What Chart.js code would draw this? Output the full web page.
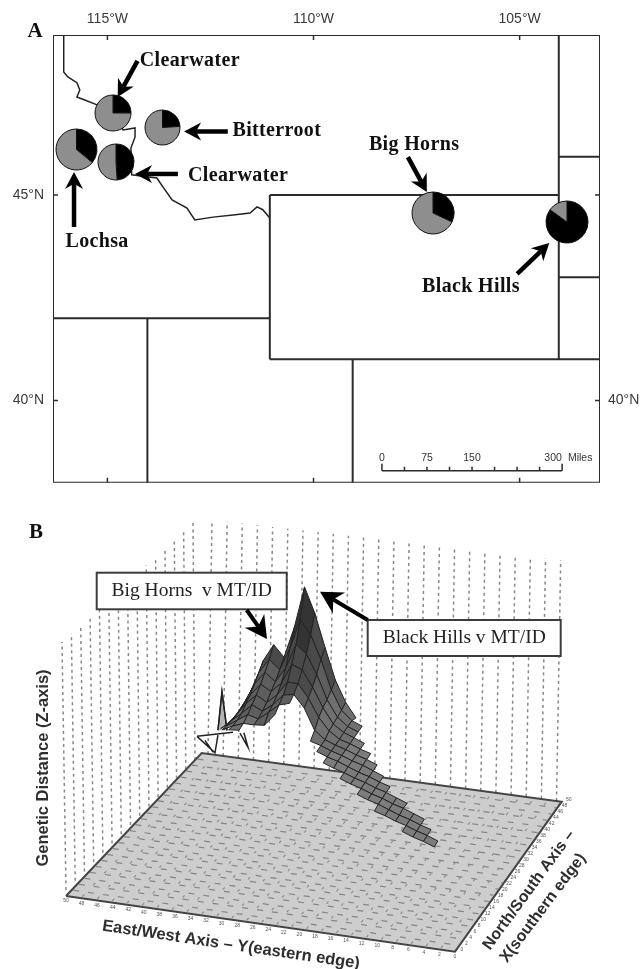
<!DOCTYPE html>
<html>
<head>
<meta charset="utf-8">
<title>Genetic distance map and surface</title>
<script src="https://cdn.jsdelivr.net/npm/chart.js@4/dist/chart.umd.min.js"></script>
<style>
  html, body { margin: 0; padding: 0; background: #fff; }
  #page { position: relative; width: 641px; height: 969px; overflow: hidden; }
  #page canvas { position: absolute; display: block; filter: blur(0.45px); }
</style>
</head>
<body>
<div id="page">
  <canvas id="mapChart" width="641" height="484" style="left:0;top:0"></canvas>
  <canvas id="surfaceChart" width="641" height="485" style="left:0;top:484px"></canvas>
</div>
<script>
// panel A: map axes
const lonTicks = [-115, -110, -105];
const latTicks = [45, 40];
const rightLatLabels = [40];

// state lines, degrees
const stateLinesLon = [
  [-116.32, -111.06], [-111.06, -111.06], [-111.06, -104.05], [-111.06, -103.05],
  [-104.05, -104.05], [-104.05, -103.05], [-104.05, -103.05], [-114.03, -114.03], [-109.05, -109.05]
];
const stateLinesLat = [
  [42, 42], [45, 41], [45, 45], [41, 41],
  [48.89, 41], [45.93, 45.93], [43, 43], [42, 38], [41, 38]
];
const idahoBorderLon = [-116.06, -116.06, -115.96, -115.74, -115.67, -115.74, -115.55, -115.25, -114.87, -114.62, -114.33, -114.33, -114.43, -114.41, -113.8, -113.65, -113.43, -113.07, -112.88, -112.44, -111.95, -111.54, -111.37, -111.23, -111.06];
const idahoBorderLat = [48.89, 47.99, 47.87, 47.73, 47.55, 47.38, 47.31, 47.19, 46.99, 46.58, 46.63, 46.41, 46.14, 45.49, 45.41, 45.19, 44.88, 44.68, 44.39, 44.46, 44.51, 44.56, 44.71, 44.64, 44.44];

// sampling sites and their share of the dark cluster
const siteLon = [-114.86, -113.66, -115.75, -114.79, -107.09, -103.84];
const siteLat = [46.99, 46.63, 46.11, 45.79, 44.55, 44.33];
const siteDarkShare = [25, 24, 36, 49, 32, 85];

const siteLabels = ["Clearwater", "Bitterroot", "Clearwater", "Lochsa", "Big Horns", "Black Hills"];
const siteLabelLon = [-113.0, -110.89, -111.83, -115.25, -107.56, -106.18];
const siteLabelLat = [48.26, 46.56, 45.46, 43.86, 46.22, 42.76];
const arrowFromLon = [-114.27, -112.08, -113.29, -115.81, -107.71, -105.06];
const arrowFromLat = [48.26, 46.54, 45.51, 44.22, 45.92, 43.08];
const arrowToLon = [-114.75, -113.14, -114.33, -115.81, -107.25, -104.28];
const arrowToLat = [47.38, 46.54, 45.51, 45.56, 45.07, 43.83];

// scale bar
const scaleBarMiles = [0, 37.5, 75, 112.5, 150, 187.5, 225, 262.5, 300];
const scaleBarLabels = ["0", "75", "150", "300"];
const scaleBarLabelMiles = [0, 75, 150, 285];

// panel B: height table, one row per north/south step, first value at surfaceStartI
const surfaceRowJ = [30, 29, 28, 27, 26, 25, 24, 23, 22, 21, 20, 19, 18];
const surfaceStartI = [3, 3, 3, 4, 4, 4, 5, 5, 6, 17, 19, 21, 24];
const surfaceZ = [
  [33, 51, 72, 101, 118, 107, 138, 180, 155, 122, 91, 70, 56],
  [35, 50, 69, 94, 108, 99, 122, 152, 138, 115, 86, 67, 58, 54],
  [37, 50, 67, 87, 100, 92, 107, 132, 124, 105, 81, 65, 57, 53],
  [51, 64, 81, 93, 87, 97, 117, 113, 97, 78, 63, 56, 52, 48],
  [52, 63, 77, 87, 81, 90, 104, 104, 91, 73, 61, 54, 51, 47, 44],
  [54, 63, 72, 82, 77, 85, 96, 98, 86, 65, 57, 53, 50, 46, 43, 39],
  [63, 70, 77, 74, 82, 91, 94, null, 59, 56, 52, 49, 45, 42, 38, 34],
  [64, 69, 73, 73, 74, 86, null, null, null, 55, 51, 48, 44, 40, 37, 33, 30],
  [70, 71, null, null, null, null, null, null, null, 50, 46, 43, 39, 36, 32, 29, 25, 21],
  [42, 38, 35, 31, 28, 24, 21, 17, 13],
  [34, 30, 27, 23, 19, 16, 12, 9],
  [25, 22, 18, 15, 11, 8, 4],
  [14, 10, 7, 3, 0]
];
// thin spike at the back corner, same i / j / z units
const spikeI = [-0.46, 3.04, null, 1.58, 1.97, 2.46, null, -0.46, 1.29, 1.58, null, 0.32, 1.1, null, 3.72, 4.5, 4.1];
const spikeZ = [16, 25, null, 25, 64, 26, null, 16, 2, 20, null, 13, 2.5, null, 25, 12, 26];

const eastWestTicks = ["50","48","46","44","42","40","38","36","34","32","30","28","26","24","22","20","18","16","14","12","10","8","6","4","2","0"];
const northSouthTicks = ["0","2","4","6","8","10","12","14","16","18","20","22","24","26","28","30","32","34","36","38","40","42","44","46","48","50"];

// drawing setup
const DARK = "#2b2b2b";
const SANS = '"Liberation Sans", Arial, sans-serif';
const SERIF = '"Liberation Serif", "Times New Roman", serif';
const PIE_RADIUS = [18, 17.5, 20.5, 18, 21, 21];
const MILES_TO_LON = 0.01457;
const BAR_LON = -108.34;
const BAR_LAT = 38.29;

function drawArrow(ctx, x1, y1, x2, y2, shaft, headLen, headWid) {
  const a = Math.atan2(y2 - y1, x2 - x1);
  ctx.save();
  ctx.translate(x2, y2);
  ctx.rotate(a);
  ctx.fillStyle = "#000";
  ctx.strokeStyle = "#000";
  ctx.lineWidth = shaft;
  ctx.beginPath();
  ctx.moveTo(-headLen * 0.7, 0);
  ctx.lineTo(-Math.hypot(x2 - x1, y2 - y1), 0);
  ctx.stroke();
  ctx.beginPath();
  ctx.moveTo(0, 0);
  ctx.lineTo(-headLen, headWid / 2);
  ctx.lineTo(-headLen * 0.7, 0);
  ctx.lineTo(-headLen, -headWid / 2);
  ctx.closePath();
  ctx.fill();
  ctx.restore();
}

function lineSet(xs, ys, color, width, dash) {
  return {
    data: xs.map((x, i) => ({ x, y: ys[i] })),
    showLine: true,
    pointRadius: 0,
    borderColor: color,
    borderWidth: width,
    borderDash: dash || [],
    borderCapStyle: "butt",
    spanGaps: false,
    tension: 0
  };
}

// ---- panel A ----
const LON_MIN = -116.32, LON_MAX = -103.05, LAT_MIN = 38, LAT_MAX = 48.89;
const mapSets = [];
stateLinesLon.forEach((xs, i) => mapSets.push(lineSet(xs, stateLinesLat[i], DARK, 2)));
mapSets.push(lineSet(idahoBorderLon, idahoBorderLat, "#222", 1.5));
mapSets.push(lineSet([LON_MIN, LON_MAX, LON_MAX, LON_MIN, LON_MIN], [LAT_MIN, LAT_MIN, LAT_MAX, LAT_MAX, LAT_MIN], DARK, 2));
lonTicks.forEach((lon) => {
  mapSets.push(lineSet([lon, lon], [LAT_MAX, LAT_MAX - 0.12], DARK, 1.5));
  mapSets.push(lineSet([lon, lon], [LAT_MIN, LAT_MIN + 0.12], DARK, 1.5));
});
latTicks.forEach((lat) => {
  mapSets.push(lineSet([LON_MIN, LON_MIN + 0.12], [lat, lat], DARK, 1.5));
  mapSets.push(lineSet([LON_MAX, LON_MAX - 0.12], [lat, lat], DARK, 1.5));
});
mapSets.push(lineSet(scaleBarMiles.map((m) => BAR_LON + m * MILES_TO_LON), scaleBarMiles.map(() => BAR_LAT), DARK, 1.5));
scaleBarMiles.forEach((m) => {
  const x = BAR_LON + m * MILES_TO_LON;
  const tall = m === 0 || m === 300 ? 0.17 : 0.1;
  mapSets.push(lineSet([x, x], [BAR_LAT, BAR_LAT + tall], DARK, 1.5));
});

const mapLabelsPlugin = {
  id: "mapLabels",
  afterDatasetsDraw(chart) {
    const { ctx, scales } = chart;
    const sx = scales.x, sy = scales.y;
    ctx.save();
    siteLabels.forEach((label, i) => {
      drawArrow(ctx,
        sx.getPixelForValue(arrowFromLon[i]), sy.getPixelForValue(arrowFromLat[i]),
        sx.getPixelForValue(arrowToLon[i]), sy.getPixelForValue(arrowToLat[i]),
        4.5, 17, 18);
    });
    ctx.fillStyle = "#111";
    ctx.textAlign = "center";
    ctx.textBaseline = "middle";
    ctx.font = 'bold 20px ' + SERIF;
    ctx.letterSpacing = "0.35px";
    siteLabels.forEach((label, i) => {
      ctx.fillText(label, sx.getPixelForValue(siteLabelLon[i]), sy.getPixelForValue(siteLabelLat[i]));
    });
    ctx.letterSpacing = "0px";
    ctx.font = 'bold 21px ' + SERIF;
    ctx.fillText("A", 35, 32);
    ctx.fillStyle = "#333";
    ctx.font = '10.5px ' + SANS;
    scaleBarLabels.forEach((label, i) => {
      ctx.fillText(label, sx.getPixelForValue(BAR_LON + scaleBarLabelMiles[i] * MILES_TO_LON), sy.getPixelForValue(BAR_LAT + 0.31));
    });
    ctx.fillText("Miles", sx.getPixelForValue(BAR_LON + 330 * MILES_TO_LON), sy.getPixelForValue(BAR_LAT + 0.31));
    ctx.restore();
  }
};

function latTickOptions(labels, pad) {
  return {
    color: "#3a3a3a",
    font: { family: SANS, size: 14 },
    padding: pad,
    callback: (v) => (labels.includes(v) ? v + "°N" : "")
  };
}

function fitNoPadding(s, key, size) {
  s[key] = size;
  s.paddingTop = 0;
  s.paddingBottom = 0;
}

const mapChart = new Chart(document.getElementById("mapChart"), {
  type: "scatter",
  data: { datasets: mapSets },
  options: {
    responsive: false,
    animation: false,
    layout: { padding: { bottom: 1.3 } },
    plugins: { legend: { display: false }, tooltip: { enabled: false } },
    scales: {
      x: {
        type: "linear", position: "top", min: LON_MIN, max: LON_MAX,
        grid: { display: false, drawTicks: false }, border: { display: false },
        afterBuildTicks: (s) => { s.ticks = lonTicks.map((value) => ({ value })); },
        afterFit: (s) => { s.height = 35; },
        ticks: {
          color: "#3a3a3a", font: { family: SANS, size: 14 }, padding: 7, maxRotation: 0, autoSkip: false,
          callback: (v) => Math.abs(v) + "°W"
        }
      },
      y: {
        type: "linear", position: "left", min: LAT_MIN, max: LAT_MAX,
        grid: { display: false, drawTicks: false }, border: { display: false },
        afterBuildTicks: (s) => { s.ticks = latTicks.map((value) => ({ value })); },
        afterFit: (s) => fitNoPadding(s, "width", 53),
        ticks: latTickOptions(latTicks, 9)
      },
      yRight: {
        type: "linear", position: "right", min: LAT_MIN, max: LAT_MAX,
        grid: { display: false, drawTicks: false }, border: { display: false },
        afterBuildTicks: (s) => { s.ticks = rightLatLabels.map((value) => ({ value })); },
        afterFit: (s) => fitNoPadding(s, "width", 41),
        ticks: latTickOptions(rightLatLabels, 8)
      }
    }
  },
  plugins: [mapLabelsPlugin]
});

// one real pie per site, placed with the map's scales
siteLon.forEach((lon, i) => {
  const r = PIE_RADIUS[i];
  const size = Math.ceil(r * 2 + 4);
  const canvas = document.createElement("canvas");
  canvas.width = size;
  canvas.height = size;
  canvas.style.left = (mapChart.scales.x.getPixelForValue(lon) - size / 2) + "px";
  canvas.style.top = (mapChart.scales.y.getPixelForValue(siteLat[i]) - size / 2) + "px";
  document.getElementById("page").appendChild(canvas);
  new Chart(canvas, {
    type: "pie",
    data: {
      labels: ["dark", "grey"],
      datasets: [{
        data: [siteDarkShare[i], 100 - siteDarkShare[i]],
        backgroundColor: ["#000", "#8e8e8e"],
        borderColor: "#111",
        borderWidth: 1
      }]
    },
    options: {
      responsive: false,
      animation: false,
      radius: r,
      plugins: { legend: { display: false }, tooltip: { enabled: false } }
    }
  });
});

// ---- panel B ----
const FLOOR_X = [66, 455, 561.7, 201.7];
const FLOOR_Y = [896, 951.7, 801.7, 753];
const GRID_I = 35, GRID_J = 30;

function floorPoint(u, v) {
  return {
    x: (1 - v) * ((1 - u) * FLOOR_X[0] + u * FLOOR_X[1]) + v * ((1 - u) * FLOOR_X[3] + u * FLOOR_X[2]),
    y: (1 - v) * ((1 - u) * FLOOR_Y[0] + u * FLOOR_Y[1]) + v * ((1 - u) * FLOOR_Y[3] + u * FLOOR_Y[2])
  };
}

function project(i, j, z) {
  const p = floorPoint(i / GRID_I, j / GRID_J);
  return { x: p.x, y: p.y - z };
}

function zAt(rowIndex, i) {
  if (rowIndex < 0 || rowIndex >= surfaceZ.length) return null;
  const v = surfaceZ[rowIndex][i - surfaceStartI[rowIndex]];
  return v === undefined ? null : v;
}

function heightColor(z) {
  if (z > 135) return "#333333";
  if (z > 100) return "#4a4a4a";
  if (z > 75) return "#5e5e5e";
  if (z > 50) return "#707070";
  return "#7c7c7c";
}

const surfaceSets = [];

// dotted walls
const BACK_WALL_COLS = 24, LEFT_WALL_COLS = 15;
for (let k = 0; k < BACK_WALL_COLS; k++) {
  const t = k / (BACK_WALL_COLS - 1);
  const bx = 208 + 348.5 * t;
  const by = 753.9 + 47 * t;
  surfaceSets.push(lineSet([bx, 212 + 348.7 * t], [by, 520 + 40 * t], "#888888", 1.5, [3, 3.5]));
}
for (let k = 0; k < LEFT_WALL_COLS; k++) {
  const t = k / (LEFT_WALL_COLS - 1);
  surfaceSets.push(lineSet([66 + 129 * t, 62 + 131 * t], [890 - 130 * t, 642 - 119 * t], "#888888", 1.5, [3, 3.5]));
}

// floor
const floorSet = lineSet([...FLOOR_X, FLOOR_X[0]], [...FLOOR_Y, FLOOR_Y[0]], "#444", 2);
floorSet.polygonFill = "#cdcdcd";
surfaceSets.push(floorSet);
for (let k = 1; k < 24; k++) {
  const a = floorPoint(0.004, k / 24), b = floorPoint(0.996, k / 24);
  surfaceSets.push(lineSet([a.x, b.x], [a.y, b.y], "#858585", 1.2, [6, 9]));
}
for (let k = 1; k < 26; k++) {
  const a = floorPoint(k / 26, 0.01), b = floorPoint(k / 26, 0.99);
  surfaceSets.push(lineSet([a.x, b.x], [a.y, b.y], "#8e8e8e", 1.2, [3, 13]));
}

// spike behind the mesh
const spikeFill = lineSet(
  [1.58, 1.97, 2.46].map((i) => project(i, 30, 0).x),
  [1.58, 1.97, 2.46].map((i, n) => project(i, 30, [25, 64, 26][n]).y),
  "#222", 1.2
);
spikeFill.polygonFill = "#b4b4b4";
surfaceSets.push(spikeFill);
surfaceSets.push(lineSet(
  spikeI.map((i) => (i === null ? null : project(i, 30, 0).x)),
  spikeI.map((i, n) => (i === null ? null : project(i, 30, spikeZ[n]).y)),
  "#222", 1.5
));

// mesh cells, back rows first
surfaceRowJ.forEach((j, row) => {
  if (row === surfaceRowJ.length - 1) return;
  for (let i = 0; i < GRID_I; i++) {
    const z = [zAt(row, i), zAt(row, i + 1), zAt(row + 1, i + 1), zAt(row + 1, i)];
    if (z.some((v) => v === null)) continue;
    const corners = [project(i, j, z[0]), project(i + 1, j, z[1]), project(i + 1, j - 1, z[2]), project(i, j - 1, z[3])];
    corners.push(corners[0]);
    const cell = lineSet(corners.map((p) => p.x), corners.map((p) => p.y), "#222222", 1);
    cell.polygonFill = heightColor((z[0] + z[1] + z[2] + z[3]) / 4);
    surfaceSets.push(cell);
  }
});

const polygonFillPlugin = {
  id: "polygonFill",
  beforeDatasetDraw(chart, args) {
    const ds = chart.data.datasets[args.index];
    if (!ds.polygonFill) return;
    const ctx = chart.ctx;
    ctx.save();
    ctx.beginPath();
    args.meta.data.forEach((p, n) => (n ? ctx.lineTo(p.x, p.y) : ctx.moveTo(p.x, p.y)));
    ctx.closePath();
    ctx.fillStyle = ds.polygonFill;
    ctx.fill();
    ctx.restore();
  }
};

const BOXES = [
  { text: "Big Horns  v MT/ID", x1: 96.7, y1: 572.7, x2: 286.7, y2: 609.3, ax: 246.7, ay: 610, bx: 267, by: 639 },
  { text: "Black Hills v MT/ID", x1: 367.7, y1: 620, x2: 560.7, y2: 656, ax: 367.7, ay: 620, bx: 320, by: 591.7 }
];

const surfaceLabelsPlugin = {
  id: "surfaceLabels",
  afterDatasetsDraw(chart) {
    const { ctx, scales } = chart;
    const sx = (v) => scales.x.getPixelForValue(v);
    const sy = (v) => scales.y.getPixelForValue(v);
    ctx.save();
    ctx.textAlign = "center";
    ctx.textBaseline = "middle";

    BOXES.forEach((b) => {
      ctx.fillStyle = "#fff";
      ctx.strokeStyle = "#3c3c3c";
      ctx.lineWidth = 2;
      ctx.fillRect(sx(b.x1), sy(b.y1), b.x2 - b.x1, b.y2 - b.y1);
      ctx.strokeRect(sx(b.x1), sy(b.y1), b.x2 - b.x1, b.y2 - b.y1);
      ctx.fillStyle = "#222";
      ctx.font = '19.5px ' + SERIF;
      ctx.fillText(b.text, sx((b.x1 + b.x2) / 2), sy((b.y1 + b.y2) / 2));
      drawArrow(ctx, sx(b.ax), sy(b.ay), sx(b.bx), sy(b.by), 4, 22, 24);
    });

    ctx.fillStyle = "#111";
    ctx.font = 'bold 21px ' + SERIF;
    ctx.fillText("B", sx(36), sy(533));

    ctx.fillStyle = "#555";
    ctx.font = '5px ' + SANS;
    eastWestTicks.forEach((t, k) => {
      const p = floorPoint(k / 25, 0);
      ctx.fillText(t, sx(p.x), sy(p.y + 5));
    });
    northSouthTicks.forEach((t, k) => {
      const p = floorPoint(1, k / 25);
      ctx.fillText(t, sx(p.x + 7), sy(p.y - 2));
    });

    const titles = [
      { text: "Genetic Distance (Z-axis)", x: 43, y: 768, a: -90, size: 16.5 },
      { text: "East/West Axis – Y(eastern edge)", x: 231, y: 945, a: 8.4, size: 16.5 },
      { text: "North/South Axis –", x: 529, y: 890, a: -53.7, size: 16 },
      { text: "X(southern edge)", x: 543, y: 908, a: -53, size: 16 }
    ];
    ctx.fillStyle = "#2e2e2e";
    titles.forEach((t) => {
      ctx.save();
      ctx.font = 'bold ' + t.size + 'px ' + SANS;
      ctx.translate(sx(t.x), sy(t.y));
      ctx.rotate(t.a * Math.PI / 180);
      ctx.fillText(t.text, 0, 0);
      ctx.restore();
    });
    ctx.restore();
  }
};

// chart.js paints the first dataset last, so hand them over reversed
new Chart(document.getElementById("surfaceChart"), {
  type: "scatter",
  data: { datasets: surfaceSets.slice().reverse() },
  options: {
    responsive: false,
    animation: false,
    layout: { padding: 0 },
    plugins: { legend: { display: false }, tooltip: { enabled: false } },
    scales: {
      x: { type: "linear", min: 0, max: 641, display: false },
      y: { type: "linear", min: 484, max: 969, reverse: true, display: false }
    }
  },
  plugins: [polygonFillPlugin, surfaceLabelsPlugin]
});
</script>
</body>
</html>
